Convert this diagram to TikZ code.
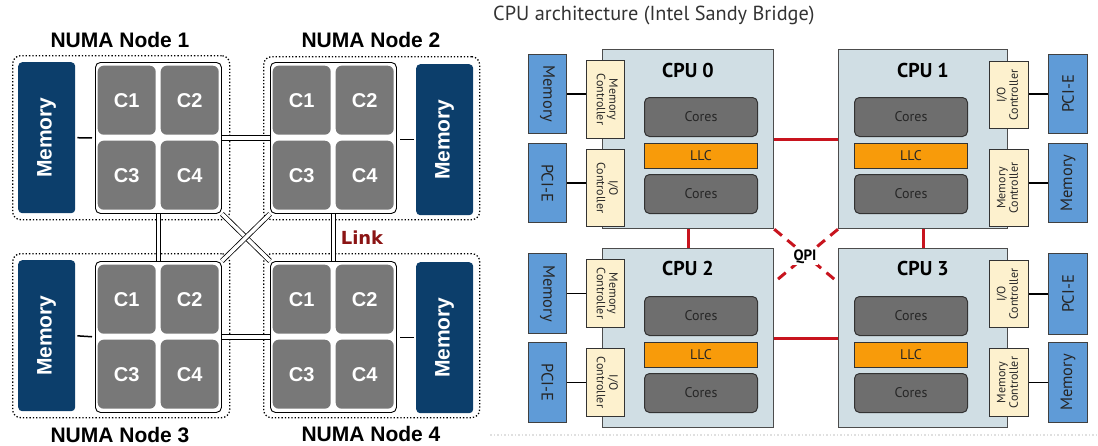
\documentclass[tikz,border=0pt]{standalone}
\usepackage{fontspec}
\usepackage{graphicx}
\setmainfont{Liberation Sans}
\newfontfamily\rfont{PT Sans}
\newfontfamily\dvfont{DejaVu Sans}
\usetikzlibrary{calc}
\definecolor{numablue}{RGB}{12,62,107}
\definecolor{coregrey}{RGB}{120,120,120}
\definecolor{linkred}{RGB}{139,20,20}
\definecolor{cpufill}{RGB}{208,222,228}
\definecolor{coresfill}{RGB}{110,110,110}
\definecolor{llcfill}{RGB}{248,155,10}
\definecolor{ctrlfill}{RGB}{253,241,206}
\definecolor{bluebox}{RGB}{95,155,215}
\definecolor{qpired}{RGB}{200,20,30}
\newcommand{\mybox}[7]{\node[#1, anchor=north west, inner sep=0pt, minimum width={((#5)-(#3))*1pt}, minimum height={((#6)-(#4))*1pt}] (#2) at (#3,#4) {#7};}
\newcommand{\rtext}[2]{\rotatebox{#1}{\begin{tabular}{@{}c@{}}#2\end{tabular}}}
\begin{document}
\begin{tikzpicture}[x=1pt,y=-1pt,
  numa/.style={draw, dotted, line width=1.3pt, rounded corners=8pt},
  nmem/.style={fill=numablue, rounded corners=4pt, text=white, font=\fontsize{21}{25}\selectfont\bfseries},
  grp/.style={draw, fill=white, line width=0.9pt, rounded corners=5pt},
  core/.style={fill=coregrey, rounded corners=6pt, text=white, font=\fontsize{20}{24}\selectfont\bfseries},
  ttl/.style={font=\fontsize{21}{25}\selectfont\bfseries, inner sep=0pt},
  lnk/.style={double=white, double distance=3.5pt, line width=0.8pt, draw=black},
  mline/.style={line width=1.5pt, shorten <=2pt, shorten >=3pt},
  cpu/.style={draw=black!70, fill=cpufill, line width=1.2pt},
  cpulbl/.style={font=\rfont\fontsize{20}{24}\selectfont\bfseries, inner sep=0pt},
  cores/.style={draw=black!80, fill=coresfill, rounded corners=5pt, line width=1pt, text=black!85, font=\rfont\fontsize{14}{16}\selectfont},
  llc/.style={draw=black!80, fill=llcfill, line width=1pt, text=black!85, font=\rfont\fontsize{14}{16}\selectfont},
  ctrl/.style={draw=black!80, fill=ctrlfill, line width=1pt, text=black!85, font=\rfont\fontsize{12}{12.5}\selectfont},
  bbox/.style={draw=black!75, fill=bluebox, line width=1pt, text=black!85, font=\rfont\fontsize{16.5}{19}\selectfont},
  qpi/.style={draw=qpired, line width=3pt},
  qpid/.style={qpi, dash pattern=on 10pt off 7pt},
  blk/.style={line width=1.8pt}
]
\useasboundingbox (0,0) rectangle (1098,445);

% ================= NUMA (left) =================
\mybox{numa}{numa1}{12}{55}{229}{219}{}
\mybox{numa}{numa2}{263}{56}{479}{219}{}
\mybox{numa}{numa3}{12}{253}{229}{417}{}
\mybox{numa}{numa4}{263}{253}{479}{417}{}

\node[ttl] (t1) at (120,40) {NUMA Node 1};
\node[ttl] (t2) at (371,40) {NUMA Node 2};
\node[ttl] (t3) at (120,435) {NUMA Node 3};
\node[ttl] (t4) at (371,434) {NUMA Node 4};

\mybox{nmem}{mem1}{18}{62}{75}{213}{\rotatebox{90}{Memory}}
\mybox{nmem}{mem2}{416}{64}{473}{215}{\rotatebox{90}{Memory}}
\mybox{nmem}{mem3}{18}{260}{75}{411}{\rotatebox{90}{Memory}}
\mybox{nmem}{mem4}{416}{262}{473}{413}{\rotatebox{90}{Memory}}

\foreach \g/\gx/\gy in {1/95/62, 2/270/62, 3/95/261, 4/270/261} {
  \mybox{grp}{g\g}{\gx}{\gy}{\gx+126}{\gy+151}{}
}

% links
\draw[lnk] (g1.east) -- (g2.west);
\draw[lnk] (g3.east) -- (g4.west);
\draw[lnk] (g1.south) -- (g3.north);
\draw[lnk] (g2.south) -- (g4.north);
\draw[lnk] (g1.south east) -- (g4.north west);
\draw[lnk] (g2.south west) -- (g3.north east);

\foreach \g/\gx/\gy in {1/95/62, 2/270/62, 3/95/261, 4/270/261} {
  \mybox{core}{c\g-1}{\gx+2.5}{\gy+3.5}{\gx+60.5}{\gy+72.5}{C1}
  \mybox{core}{c\g-2}{\gx+65.5}{\gy+3.5}{\gx+123.5}{\gy+72.5}{C2}
  \mybox{core}{c\g-3}{\gx+2.5}{\gy+78.5}{\gx+60.5}{\gy+147.5}{C3}
  \mybox{core}{c\g-4}{\gx+65.5}{\gy+78.5}{\gx+123.5}{\gy+147.5}{C4}
}

\draw[mline] (mem1.east) -- (g1.west);
\draw[mline] (mem3.east) -- (g3.west);
\draw[mline] (mem2.west) -- (mem2.west -| g2.east);
\draw[mline] (mem4.west) -- (mem4.west -| g4.east);

\node[font=\dvfont\fontsize{18}{22}\selectfont\bfseries, text=linkred, inner sep=0pt] (linklbl) at (362,238) {Link};

% ================= CPU architecture (right) =================
\node[anchor=west, font=\rfont\fontsize{20.3}{24}\selectfont, text=black!80, inner sep=0pt] (rtitle) at (493,16) {CPU architecture (Intel Sandy Bridge)};

\mybox{cpu}{cpu0}{602}{49}{773}{228}{}
\mybox{cpu}{cpu1}{838}{49}{1007}{228}{}
\mybox{cpu}{cpu2}{602}{248}{773}{427}{}
\mybox{cpu}{cpu3}{838}{248}{1007}{427}{}

% QPI links
\draw[qpi] (cpu0.east) -- (cpu1.west);
\draw[qpi] (cpu2.east) -- (cpu3.west);
\draw[qpi] (cpu0.south) -- (cpu2.north);
\draw[qpi] (cpu1.south) -- (cpu3.north);
\coordinate (q3) at ($(cpu3.north west)!0.19!(cpu3.south west)$);
\coordinate (q2) at ($(cpu2.north east)!0.19!(cpu2.south east)$);
\draw[qpid] (cpu0.south east) -- (q3);
\draw[qpid] (cpu1.south west) -- (q2);
\node[fill=white, inner sep=1.5pt, font=\rfont\fontsize{15}{17}\selectfont\bfseries] (qpilbl) at (805,257) {QPI};

\node[cpulbl] (l0) at (688,70) {CPU 0};
\node[cpulbl] (l1) at (923,70) {CPU 1};
\node[cpulbl] (l2) at (688,268) {CPU 2};
\node[cpulbl] (l3) at (923,268) {CPU 3};

\foreach \c/\cx/\cy in {0/644/49, 1/854/49, 2/644/248, 3/854/248} {
  \mybox{cores}{co\c a}{\cx}{\cy+48}{\cx+113}{\cy+87}{Cores}
  \mybox{llc}{llc\c}{\cx}{\cy+94}{\cx+113}{\cy+119}{LLC}
  \mybox{cores}{co\c b}{\cx}{\cy+125}{\cx+113}{\cy+164}{Cores}
}

% controllers
\mybox{ctrl}{mc0}{586}{60}{624}{138}{\rtext{-90}{Memory\\Controller}}
\mybox{ctrl}{io0}{586}{149}{624}{226}{\rtext{-90}{I/O\\Controller}}
\mybox{ctrl}{io1}{989}{61}{1028}{128}{\rtext{90}{I/O\\Controller}}
\mybox{ctrl}{mc1}{989}{149}{1028}{226}{\rtext{90}{Memory\\Controller}}
\mybox{ctrl}{mc2}{586}{259}{624}{327}{\rtext{-90}{Memory\\Controller}}
\mybox{ctrl}{io2}{586}{348}{624}{416}{\rtext{-90}{I/O\\Controller}}
\mybox{ctrl}{io3}{989}{260}{1028}{327}{\rtext{90}{I/O\\Controller}}
\mybox{ctrl}{mc3}{989}{348}{1028}{416}{\rtext{90}{Memory\\Controller}}

% memory / PCI-E
\mybox{bbox}{bm0}{528}{54}{566}{133}{\rotatebox{-90}{Memory}}
\mybox{bbox}{pe0}{528}{143}{566}{222}{\rotatebox{-90}{PCI-E}}
\mybox{bbox}{pe1}{1048}{54}{1087}{133}{\rotatebox{90}{PCI-E}}
\mybox{bbox}{bm1}{1048}{143}{1087}{222}{\rotatebox{90}{Memory}}
\mybox{bbox}{bm2}{528}{253}{566}{333}{\rotatebox{-90}{Memory}}
\mybox{bbox}{pe2}{528}{342}{566}{422}{\rotatebox{-90}{PCI-E}}
\mybox{bbox}{pe3}{1048}{253}{1087}{334}{\rotatebox{90}{PCI-E}}
\mybox{bbox}{bm3}{1048}{342}{1087}{422}{\rotatebox{90}{Memory}}

\draw[blk] (bm0.east) -- (bm0.east -| mc0.west);
\draw[blk] (pe0.east) -- (pe0.east -| io0.west);
\draw[blk] (pe1.west) -- (pe1.west -| io1.east);
\draw[blk] (bm1.west) -- (bm1.west -| mc1.east);
\draw[blk] (bm2.east) -- (bm2.east -| mc2.west);
\draw[blk] (pe2.east) -- (pe2.east -| io2.west);
\draw[blk] (pe3.west) -- (pe3.west -| io3.east);
\draw[blk] (bm3.west) -- (bm3.west -| mc3.east);

\coordinate (sepA) at (490,435);
\coordinate (sepB) at (1098,435);
\draw[black!12, dotted, line width=1.5pt] (sepA) -- (sepB);
\end{tikzpicture}
\end{document}
